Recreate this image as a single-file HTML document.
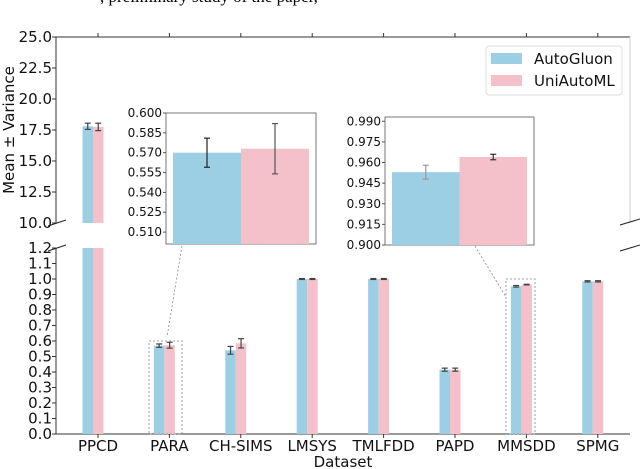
<!DOCTYPE html>
<html><head><meta charset="utf-8"><style>
body{margin:0;background:#fff}
svg{display:block;font-family:"DejaVu Sans","Liberation Sans",sans-serif}
</style></head><body>
<svg id="c" width="640" height="469" viewBox="0 0 640 469">
<text x="100" y="2" font-family="Liberation Serif" font-size="17">, preliminary study of the paper,</text>
</svg>
<script>
const categories=["PPCD","PARA","CH-SIMS","LMSYS","TMLFDD","PAPD","MMSDD","SPMG"];
const autoGluon=[17.8,0.570,0.540,1.0,1.0,0.415,0.953,0.985];
const autoGluonErr=[0.25,0.011,0.025,0.003,0.003,0.01,0.005,0.004];
const uniAutoML=[17.75,0.573,0.585,1.0,1.0,0.415,0.964,0.985];
const uniAutoMLErr=[0.3,0.019,0.03,0.003,0.003,0.01,0.002,0.004];
const topTicks=["10.0","12.5","15.0","17.5","20.0","22.5","25.0"];
const botTicks=["0.0","0.1","0.2","0.3","0.4","0.5","0.6","0.7","0.8","0.9","1.0","1.1","1.2"];
const inset1Ticks=["0.510","0.525","0.540","0.555","0.570","0.585","0.600"];
const inset2Ticks=["0.900","0.915","0.930","0.945","0.960","0.975","0.990"];
const BLUE="#9ccfe3",PINK="#f4c1cb";
const svg=document.getElementById('c');const NS="http://www.w3.org/2000/svg";
function el(t,a,p){const e=document.createElementNS(NS,t);for(const k in a)e.setAttribute(k,a[k]);(p||svg).appendChild(e);return e;}
const L=56,R=630;
const xc=i=>98+71.4*i;
const yTop=v=>223-(v-10)/15*186;
const yBot=v=>434-v/1.2*186;
let e;
e=el('line',{x1:L,y1:37,x2:R,y2:37,stroke:'#333','stroke-width':1});


e=el('line',{x1:L,y1:37,x2:L,y2:223,stroke:'#333','stroke-width':1});


e=el('line',{x1:R,y1:37,x2:R,y2:223,stroke:'#ccc','stroke-width':1});


e=el('line',{x1:L,y1:248,x2:L,y2:434,stroke:'#333','stroke-width':1});


e=el('line',{x1:L,y1:434,x2:R,y2:434,stroke:'#333','stroke-width':1});


[[48,226,66,220],[48,251,66,245],[620,225,640,219],[620,251,640,245]].forEach(b=>{
 e=el('line',{x1:b[0],y1:b[1],x2:b[2],y2:b[3],stroke:'#222','stroke-width':1});
 
 
});
topTicks.forEach(t=>{const y=yTop(+t);
 el('line',{x1:L-4,y1:y,x2:L,y2:y,stroke:'#333'});
 e=el('text',{x:L-4,y:y+5,'text-anchor':'end','font-size':15,fill:'#111'});e.textContent=t;
 
 
});
botTicks.forEach(t=>{const y=yBot(+t);
 el('line',{x1:L-4,y1:y,x2:L,y2:y,stroke:'#333'});
 e=el('text',{x:L-4,y:y+5,'text-anchor':'end','font-size':15,fill:'#111'});e.textContent=t;
 
 
});
categories.forEach((c,i)=>{const x=xc(i);
 el('line',{x1:x,y1:37,x2:x,y2:33,stroke:'#333'});
 el('line',{x1:x,y1:434,x2:x,y2:438,stroke:'#333'});
 e=el('text',{x:x,y:451,'text-anchor':'middle','font-size':15,fill:'#111'});e.textContent=c;
 
 
});
e=el('text',{x:343,y:467,'text-anchor':'middle','font-size':15,fill:'#111'});e.textContent='Dataset';


e=el('text',{x:0,y:0,'text-anchor':'middle','font-size':15,fill:'#111',transform:'translate(14,130) rotate(-90)'});e.textContent='Mean ± Variance';


function errbar(x,y1,y2,col){el('line',{x1:x,y1:y1,x2:x,y2:y2,stroke:col,'stroke-width':1.2});
 el('line',{x1:x-3,y1:y1,x2:x+3,y2:y1,stroke:col,'stroke-width':1.2});el('line',{x1:x-3,y1:y2,x2:x+3,y2:y2,stroke:col,'stroke-width':1.2});}
const BW=10.5;
[[autoGluon,autoGluonErr,BLUE,-1,'autogluon'],[uniAutoML,uniAutoMLErr,PINK,0,'uniautoml']].forEach(([vals,errs,col,off,nm])=>{
 vals.forEach((v,i)=>{const x=xc(i)-5+off*BW;
  if(v>1.2){
   e=el('rect',{x:x,y:yTop(v),width:BW,height:223-yTop(v),fill:col});
   
   
   e=el('rect',{x:x,y:248,width:BW,height:186,fill:col});
   
   
   errbar(x+BW/2,yTop(v+errs[i]),yTop(v-errs[i]),'#444');
  }else{
   e=el('rect',{x:x,y:yBot(v),width:BW,height:434-yBot(v),fill:col});
   
   
   errbar(x+BW/2,yBot(v+errs[i]),yBot(v-errs[i]),'#444');
  }
 });
});
function dash(a){const d=el('line',Object.assign({stroke:'#888','stroke-width':0.8,'stroke-dasharray':'2,2'},a));return d;}
e=el('rect',{x:149,y:yBot(0.6),width:33,height:434-yBot(0.6),fill:'none',stroke:'#888','stroke-width':0.8,'stroke-dasharray':'2,2'});


e=el('rect',{x:506,y:yBot(1.0),width:29,height:434-yBot(1.0),fill:'none',stroke:'#888','stroke-width':0.8,'stroke-dasharray':'2,2'});


dash({x1:182,y1:246,x2:167,y2:337});
dash({x1:475,y1:246,x2:506,y2:297});
function inset(bx,by,bw,bh,lo,hi,ticks,i,nm,c1,c2){
 e=el('rect',{x:bx,y:by,width:bw,height:bh,fill:'#fff',stroke:'#555','stroke-width':0.8});
 
 
 const y=v=>by+bh-(v-lo)/(hi-lo)*bh;
 ticks.forEach(t=>{const yy=y(+t);el('line',{x1:bx-3,y1:yy,x2:bx,y2:yy,stroke:'#555'});
  e=el('text',{x:bx-4,y:yy+4,'text-anchor':'end','font-size':12,fill:'#111'});e.textContent=t;
  
  });
 const w=(bw-14)/2;
 [[autoGluon,autoGluonErr,BLUE,c1],[uniAutoML,uniAutoMLErr,PINK,c2]].forEach(([vals,errs,col,ec],k)=>{
  const x=bx+7+k*w;
  e=el('rect',{x:x,y:y(vals[i]),width:w,height:by+bh-y(vals[i]),fill:col});
  
  
  errbar(x+w/2,y(vals[i]+errs[i]),y(vals[i]-errs[i]),ec);
 });
}
inset(166,113,150,131,0.501,0.600,inset1Ticks,1,'para-inset','#222','#555');
inset(385,117,149,128,0.900,0.9931,inset2Ticks,6,'mmsdd-inset','#999','#333');
const lg=el('g',{});


el('rect',{x:486,y:46,width:136,height:49,rx:3,fill:'#fff',stroke:'#ddd'},lg);
[[BLUE,'AutoGluon',53],[PINK,'UniAutoML',75]].forEach(([c,t,y])=>{
 e=el('rect',{x:491,y:y,width:31,height:11,fill:c},lg);
 
 
 e=el('text',{x:534,y:y+11,'font-size':15,fill:'#111'},lg);e.textContent=t;
 
 
});
</script>
</body></html>
